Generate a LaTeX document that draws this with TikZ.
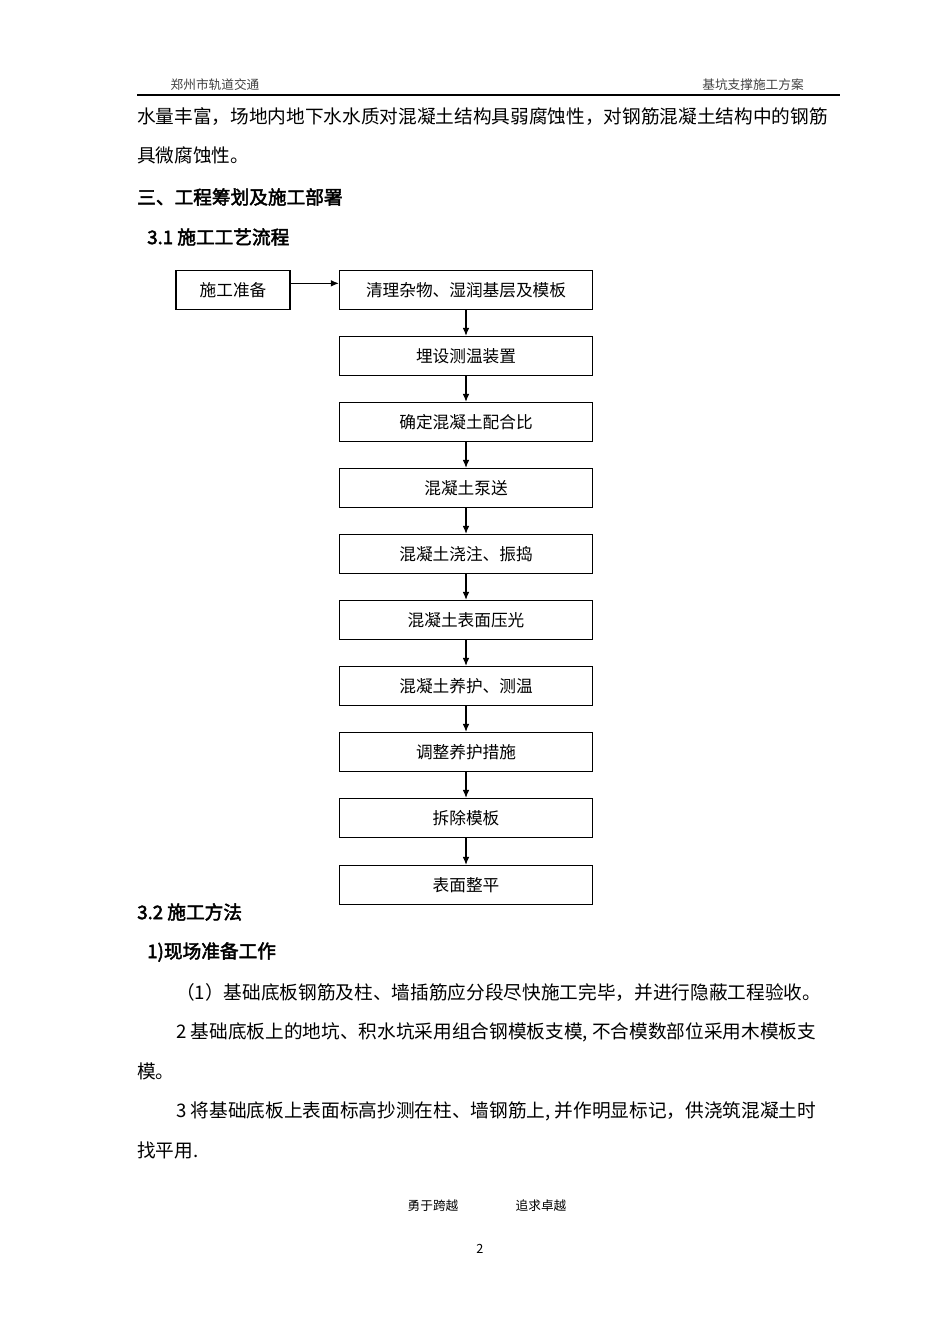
\documentclass[tikz,border=0pt]{standalone}
\usepackage{fontspec}
\setmainfont{Liberation Serif}
\newfontfamily\cjk[AutoFakeBold=2.5]{Noto Sans CJK SC}
\usetikzlibrary{arrows.meta}
\begin{document}
\begin{tikzpicture}[x=0.75pt,y=-0.75pt,
  txt/.style={anchor=west,inner sep=0,font=\cjk\fontsize{14}{16}\selectfont},
  bold/.style={txt,font=\cjk\bfseries\fontsize{14}{16}\selectfont},
  hdr/.style={inner sep=0,font=\cjk\fontsize{9.5}{11}\selectfont,text=black!75},
  stepbox/.style={draw,line width=1pt,minimum width=253*0.75pt,minimum height=39*0.75pt,inner sep=0,font=\cjk\fontsize{12.5}{14}\selectfont},
  arr/.style={-{Latex[length=6pt,width=5pt]},line width=0.8pt}]
\useasboundingbox (0,0) rectangle (950,1344);
\node[hdr] (h1) at (215,85) {郑州市轨道交通};
\node[hdr] (h2) at (753,85) {基坑支撑施工方案};
\draw[line width=0.8pt] (137,95) -- (840,95);
\node[txt] (t1) at (137,117) {水量丰富，场地内地下水水质对混凝土结构具弱腐蚀性，对钢筋混凝土结构中的钢筋};
\node[txt] (t2) at (137,155) {具微腐蚀性。};
\node[bold] (t3) at (137,197) {三、工程筹划及施工部署};
\node[bold] (t4) at (147,237) {3.1 施工工艺流程};
\node[stepbox,minimum width=114*0.75pt] (p) at (233,290) {施工准备};
\foreach \n/\y/\t in {b1/290/清理杂物、湿润基层及模板,b2/356/埋设测温装置,b3/422/确定混凝土配合比,b4/488/混凝土泵送,b5/554/混凝土浇注、振捣,b6/620/混凝土表面压光,b7/686/混凝土养护、测温,b8/752/调整养护措施,b9/818/拆除模板,b10/885/表面整平}
  \node[stepbox] (\n) at (466,\y) {\t};
\draw[arr] (p.east) ++(0,5pt) coordinate (pa) -- (pa -| b1.west);
\foreach \a/\b in {b1/b2,b2/b3,b3/b4,b4/b5,b5/b6,b6/b7,b7/b8,b8/b9,b9/b10}
  \draw[arr] (\a) -- (\b);
\node[bold] (t5) at (137,912) {3.2 施工方法};
\node[bold] (t6) at (147,952) {1)现场准备工作};
\node[txt] (t7) at (176,992) {（1）基础底板钢筋及柱、墙插筋应分段尽快施工完毕，并进行隐蔽工程验收。};
\node[txt] (t8) at (176,1032) {2 基础底板上的地坑、积水坑采用组合钢模板支模, 不合模数部位采用木模板支};
\node[txt] (t9) at (137,1071) {模。};
\node[txt] (t10) at (176,1111) {3 将基础底板上表面标高抄测在柱、墙钢筋上, 并作明显标记，供浇筑混凝土时};
\node[txt] (t11) at (137,1150) {找平用.};
\node[hdr,text=black] (f1) at (433,1206) {勇于跨越};
\node[hdr,text=black] (f2) at (541,1206) {追求卓越};
\node[hdr,text=black] (pg) at (480,1249) {2};
\end{tikzpicture}
\end{document}
